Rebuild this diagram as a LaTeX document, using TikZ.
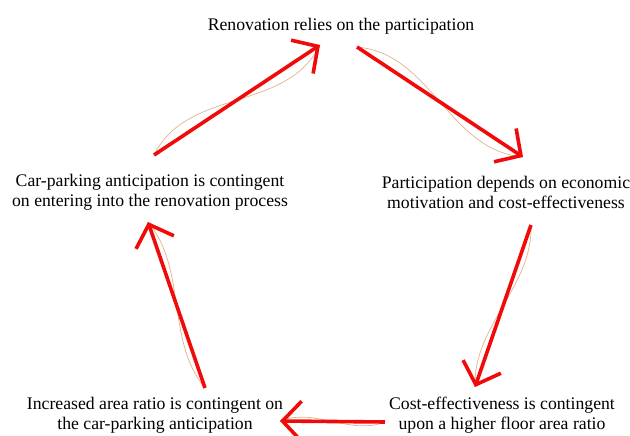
\documentclass[tikz,border=0pt]{standalone}
\usepackage{fontspec}
\setmainfont{Liberation Serif}
\usetikzlibrary{arrows.meta,calc}
\definecolor{arrowred}{RGB}{240,10,10}
\definecolor{wavetan}{RGB}{226,178,140}
\begin{document}
\begin{tikzpicture}[x=1pt,y=-1pt,
  label/.style={align=center,inner sep=0pt,font=\fontsize{17.7}{20}\selectfont},
  flow/.style={draw=arrowred,line width=3.6pt,-{Straight Barb[length=19pt,width=40pt]}},
  wave/.style={draw=wavetan,line width=0.7pt}]
\useasboundingbox (0,0) rectangle (630,436);
\node[label] (t1) at (341,26) {Renovation relies on the participation};
\node[label] (t2) at (506,192) {Participation depends on economic\\motivation and cost-effectiveness};
\node[label] (t3) at (502,415) {Cost-effectiveness is contingent\\upon a higher floor area ratio};
\node[label] (t4) at (155,415) {Increased area ratio is contingent on\\the car-parking anticipation};
\node[label] (t5) at (150,192) {Car-parking anticipation is contingent\\on entering into the renovation process};
% arrow end points
\coordinate (a1s) at (154,155); \coordinate (a1e) at (320,45);
\coordinate (a2s) at (357,47);  \coordinate (a2e) at (523,157);
\coordinate (a3s) at (531,225); \coordinate (a3e) at (475,387);
\coordinate (a4s) at (385,422); \coordinate (a4e) at (280,421);
\coordinate (a5s) at (205,388); \coordinate (a5e) at (148,222);
% thin waves
\draw[wave] (a1s) .. controls ($(a1s)!0.33!(a1e)!38pt!90:(a1e)$) and ($(a1s)!0.67!(a1e)!38pt!-90:(a1e)$) .. (a1e);
\draw[wave] (a2s) .. controls ($(a2s)!0.33!(a2e)!36pt!90:(a2e)$) and ($(a2s)!0.67!(a2e)!36pt!-90:(a2e)$) .. (a2e);
\draw[wave] (a3s) .. controls ($(a3s)!0.33!(a3e)!22pt!90:(a3e)$) and ($(a3s)!0.67!(a3e)!22pt!-90:(a3e)$) .. (a3e);
\draw[wave] (a4s) .. controls ($(a4s)!0.33!(a4e)!14pt!90:(a4e)$) and ($(a4s)!0.67!(a4e)!14pt!-90:(a4e)$) .. (a4e);
\draw[wave] (a5s) .. controls ($(a5s)!0.33!(a5e)!22pt!90:(a5e)$) and ($(a5s)!0.67!(a5e)!22pt!-90:(a5e)$) .. (a5e);
% red arrows
\draw[flow] (a1s) -- (a1e);
\draw[flow] (a2s) -- (a2e);
\draw[flow] (a3s) -- (a3e);
\draw[flow] (a4s) -- (a4e);
\draw[flow] (a5s) -- (a5e);
\end{tikzpicture}
\end{document}
